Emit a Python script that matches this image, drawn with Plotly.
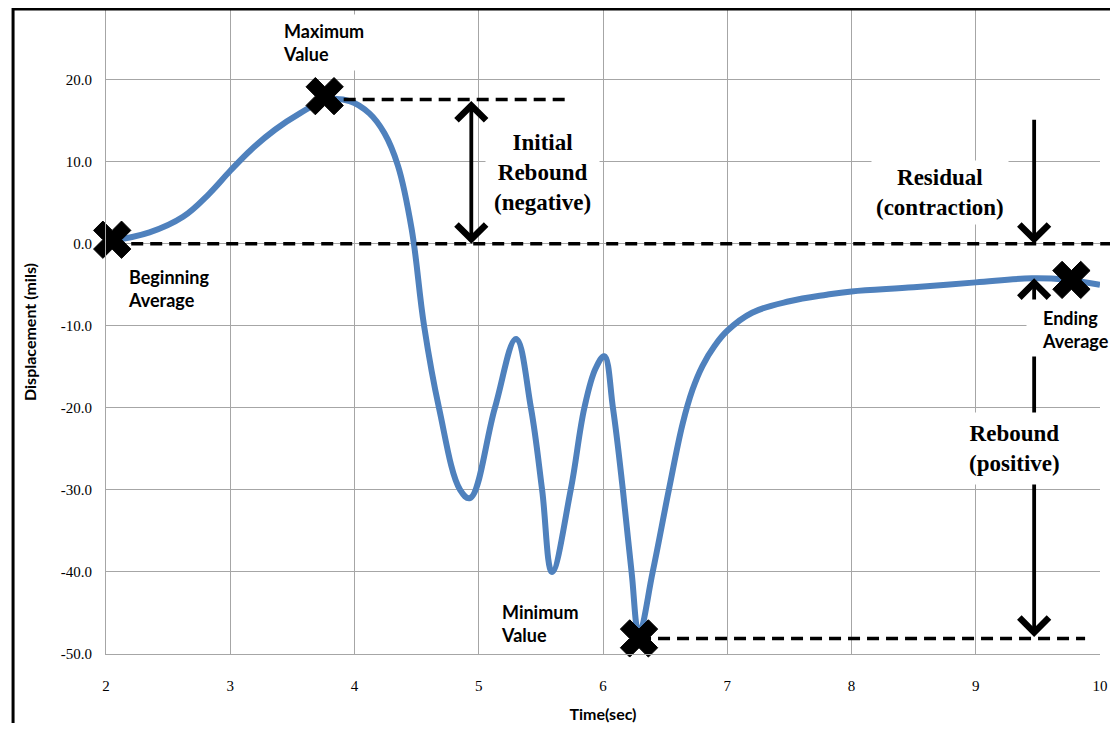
import plotly.graph_objects as go

# displacement curve
time_s = [2.05, 2.35, 2.62, 2.83, 3.0, 3.17, 3.36, 3.56, 3.77, 3.96, 4.12, 4.24, 4.35, 4.46,
          4.56, 4.68, 4.85, 4.93, 5.13, 5.30, 5.42, 5.51, 5.59, 5.74, 5.85, 5.94, 6.01, 6.08,
          6.16, 6.23, 6.29, 6.40, 6.53, 6.64, 6.72, 6.80, 6.90, 7.0, 7.2, 7.5, 7.8, 8.0, 8.5,
          9.0, 9.45, 9.72, 10.0]
disp_mils = [0.4, 1.4, 3.3, 6.1, 8.9, 11.5, 13.9, 15.9, 17.5, 17.4, 15.9, 13.5, 9.5, 1.8,
             -10.0, -20.0, -30.0, -31.0, -20.0, -11.6, -20.0, -30.0, -40.0, -30.0, -20.0, -15.2, -13.7, -20.0,
             -30.0, -40.0, -47.5, -40.0, -30.0, -22.0, -17.8, -14.9, -12.4, -10.6, -8.4, -7.0, -6.2, -5.8, -5.3,
             -4.7, -4.2, -4.35, -5.0]

# key points (X markers)
key_t = [2.05, 3.76, 6.29, 9.77]
key_y = [0.5, 18.0, -48.1, -4.4]

# reference levels
begin_avg = 0.0
max_val = 17.6
min_val = -48.1
end_avg = -4.2
residual_top = 15.3

y_tick_vals = [20, 10, 0, -10, -20, -30, -40, -50]
y_tick_text = ["20.0", "10.0", "0.0", "-10.0", "-20.0", "-30.0", "-40.0", "-50.0"]
x_tick_vals = [2, 3, 4, 5, 6, 7, 8, 9, 10]

fig = go.Figure()

fig.add_trace(go.Scatter(
    x=time_s, y=disp_mils, mode="lines",
    line=dict(color="#4F81BD", width=6, shape="spline", smoothing=1.1),
    hoverinfo="skip", showlegend=False,
))
fig.add_trace(go.Scatter(
    x=key_t, y=key_y, mode="markers",
    marker=dict(symbol="x", size=33, color="black", line=dict(width=1, color="black")),
    cliponaxis=False, showlegend=False,
))

dash = "12px,7px"
shapes = [
    # max level
    dict(type="line", xref="x", yref="y", x0=key_t[1], x1=5.72, y0=max_val, y1=max_val,
         line=dict(color="black", width=3.5, dash=dash), layer="above"),
    # beginning average level, runs past the plot edge
    dict(type="line", xref="paper", yref="y", x0=(key_t[0] - 2) / 8, x1=1.03, y0=begin_avg, y1=begin_avg,
         line=dict(color="black", width=3.5, dash=dash), layer="above"),
    # min level
    dict(type="line", xref="x", yref="y", x0=key_t[2], x1=9.88, y0=min_val, y1=min_val,
         line=dict(color="black", width=3.5, dash=dash), layer="above"),
    # outer frame
    dict(type="rect", xref="paper", yref="paper", x0=-0.0935, x1=1.2, y0=-0.3, y1=1.0015,
         line=dict(color="black", width=3)),
]

arrow = dict(showarrow=True, text="", axref="x", ayref="y", xref="x", yref="y",
             arrowcolor="black", arrowwidth=3.8, arrowsize=1.5, arrowhead=4, startarrowhead=4,
             startarrowsize=1.5)
sans = dict(family="Lato", size=18, color="black")
serif = dict(family="Liberation Serif", size=23, color="black")

annotations = [
    dict(arrow, x=4.94, y=begin_avg, ax=4.94, ay=max_val, arrowside="end+start"),
    dict(arrow, x=9.47, y=begin_avg, ax=9.47, ay=residual_top, arrowside="end"),
    dict(arrow, x=9.47, y=end_avg, ax=9.47, ay=min_val, arrowside="end+start"),
    dict(x=3.75, y=24.5, text="<b>Maximum<br>Value</b>", align="left", font=sans,
         showarrow=False, bgcolor="white", borderpad=5),
    dict(x=2.5, y=-5.5, text="<b>Beginning<br>Average</b>", align="left", font=sans,
         showarrow=False, bgcolor="white", borderpad=3),
    dict(x=5.49, y=-46.3, text="<b>Minimum<br>Value</b>", align="left", font=sans,
         showarrow=False, bgcolor="white", borderpad=6),
    dict(x=9.47, y=-10.3, text="\u00a0", width=14, height=56, font=sans,
         showarrow=False, bgcolor="white", borderpad=0),
    dict(x=9.8, y=-10.4, text="<b>Ending<br>Average</b>", align="left", font=sans,
         showarrow=False, bgcolor="white", borderpad=1),
    dict(x=5.51, y=8.75, text="<b>Initial<br>Rebound<br>(negative)</b>", align="center", font=serif,
         showarrow=False, bgcolor="white", borderpad=8),
    dict(x=8.71, y=6.2, text="<b>Residual<br>(contraction)</b>", align="center", font=serif,
         showarrow=False, bgcolor="white", borderpad=4),
    dict(x=9.31, y=-25.0, text="<b>Rebound<br>(positive)</b>", align="center", font=serif,
         showarrow=False, bgcolor="white", borderpad=8),
]

# the page keeps an 8px body margin, so the figure is made smaller than the window
fig.update_layout(
    width=1102, height=715,
    margin=dict(l=98, r=9, t=2, b=67),
    paper_bgcolor="white", plot_bgcolor="white",
    shapes=shapes, annotations=annotations,
    showlegend=False,
)
fig.update_xaxes(
    range=[2, 10], tickvals=x_tick_vals,
    showgrid=True, gridcolor="#A6A6A6", gridwidth=1,
    showline=True, linecolor="#A6A6A6", linewidth=1, zeroline=False,
    tickfont=dict(family="Liberation Serif", size=15, color="black"),
    ticklabelstandoff=18,
    title=dict(text="<b>Time(sec)</b>", font=dict(family="Lato", size=16, color="black"), standoff=16),
)
fig.update_yaxes(
    range=[-50, 28.5], tickvals=y_tick_vals, ticktext=y_tick_text,
    showgrid=True, gridcolor="#A6A6A6", gridwidth=1,
    showline=True, linecolor="#A6A6A6", linewidth=1, zeroline=False,
    tickfont=dict(family="Liberation Serif", size=15, color="black"),
    ticklabelstandoff=10,
    title=dict(text="<b>Displacement (mils)</b>", font=dict(family="Lato", size=16, color="black"), standoff=20),
)

fig.write_html("out.html")
